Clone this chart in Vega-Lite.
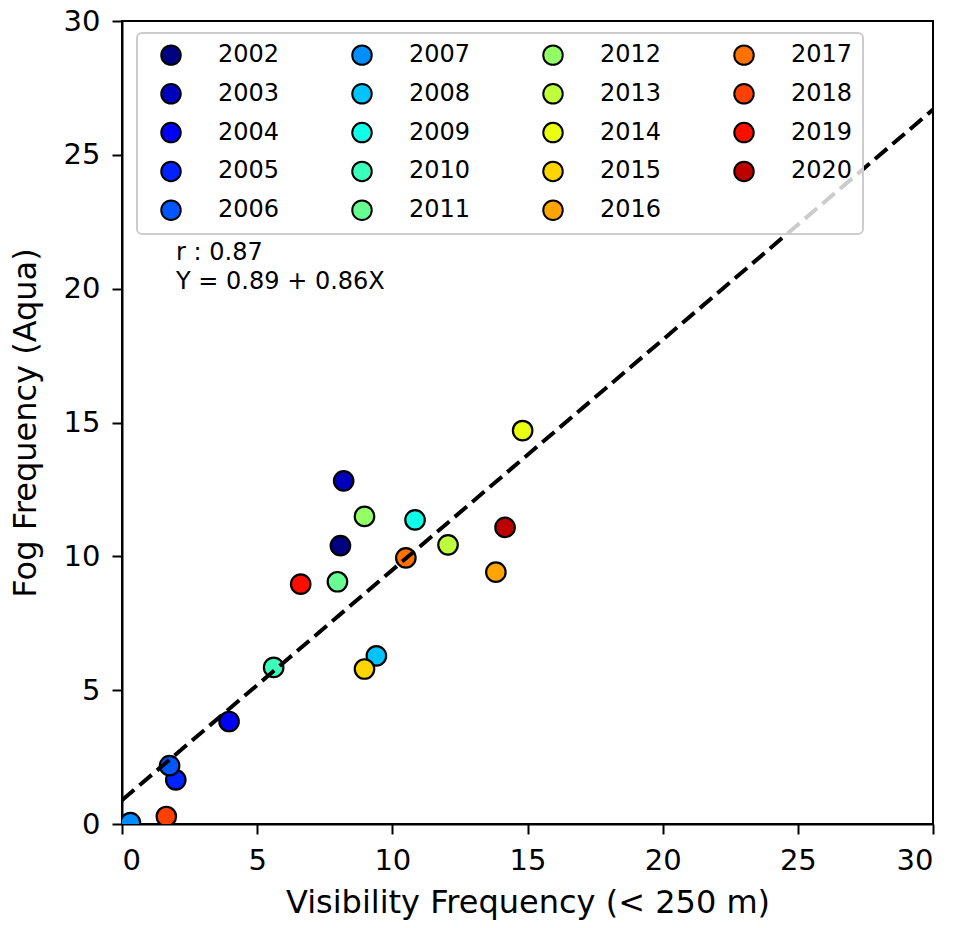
{
  "$schema": "https://vega.github.io/schema/vega-lite/v6.json",
  "width": 811,
  "height": 803,
  "autosize": {"type": "none"},
  "padding": {"left": 122, "top": 21, "right": 22, "bottom": 104},
  "background": "white",
  "config": {
    "font": "DejaVu Sans",
    "view": {"stroke": "black", "strokeWidth": 2},
    "axis": {
      "grid": false,
      "domainColor": "black",
      "domainWidth": 2,
      "tickColor": "black",
      "tickWidth": 2,
      "tickSize": 10,
      "labelColor": "black",
      "labelFont": "DejaVu Sans",
      "labelFontSize": 29,
      "labelPadding": 12,
      "titleColor": "black",
      "titleFont": "DejaVu Sans",
      "titleFontSize": 32,
      "titleFontWeight": "normal"
    }
  },
  "datasets": {
    "pts": [
      {"year": "2002", "vis": 8.08, "fog": 10.40},
      {"year": "2003", "vis": 8.20, "fog": 12.82},
      {"year": "2004", "vis": 3.96, "fog": 3.83},
      {"year": "2005", "vis": 1.99, "fog": 1.65},
      {"year": "2006", "vis": 1.76, "fog": 2.18},
      {"year": "2007", "vis": 0.31, "fog": 0.05},
      {"year": "2008", "vis": 9.41, "fog": 6.28},
      {"year": "2009", "vis": 10.84, "fog": 11.36},
      {"year": "2010", "vis": 5.61, "fog": 5.85},
      {"year": "2011", "vis": 7.97, "fog": 9.05},
      {"year": "2012", "vis": 8.97, "fog": 11.49},
      {"year": "2013", "vis": 12.06, "fog": 10.43},
      {"year": "2014", "vis": 14.82, "fog": 14.70},
      {"year": "2015", "vis": 8.97, "fog": 5.79},
      {"year": "2016", "vis": 13.83, "fog": 9.41},
      {"year": "2017", "vis": 10.50, "fog": 9.94},
      {"year": "2018", "vis": 1.64, "fog": 0.28},
      {"year": "2019", "vis": 6.61, "fog": 8.96},
      {"year": "2020", "vis": 14.17, "fog": 11.08}
    ],
    "fit": [
      {"vis": 0, "fog": 0.89},
      {"vis": 30, "fog": 26.69}
    ],
    "note": [
      {"label": "r : 0.87"}
    ]
  },
  "layer": [
    {
      "data": {"name": "pts"},
      "mark": {"type": "point", "filled": true, "shape": "circle", "size": 380, "stroke": "black", "strokeWidth": 2.2, "opacity": 1, "clip": true},
      "encoding": {
        "x": {"field": "vis", "type": "quantitative", "scale": {"domain": [0, 30], "nice": false, "zero": false}, "axis": {"values": [0, 5, 10, 15, 20, 25, 30], "title": "Visibility Frequency (< 250 m)", "titlePadding": 12}},
        "y": {"field": "fog", "type": "quantitative", "scale": {"domain": [0, 30], "nice": false, "zero": false}, "axis": {"values": [0, 5, 10, 15, 20, 25, 30], "title": "Fog Frequency (Aqua)", "titlePadding": 21}},
        "fill": {
          "field": "year",
          "type": "nominal",
          "scale": {
            "domain": ["2002","2003","2004","2005","2006","2007","2008","2009","2010","2011","2012","2013","2014","2015","2016","2017","2018","2019","2020"],
            "range": ["#000080","#0000BC","#0000F6","#0022FF","#0057FF","#008DFF","#00C3FF","#0FFFE8","#3BFFBC","#67FF91","#92FF66","#BCFF3A","#E8FF0F","#FFD500","#FFA400","#FF7200","#FF4000","#FA0E00","#BC0000"]
          },
          "legend": {
            "title": null,
            "orient": "none",
            "legendX": 15,
            "legendY": 12,
            "columns": 4,
            "gridAlign": "all",
            "labelFont": "DejaVu Sans",
            "labelFontSize": 24,
            "labelColor": "black",
            "labelLimit": 0,
            "labelOffset": 35,
            "symbolType": "circle",
            "symbolSize": 380,
            "symbolStrokeColor": "black",
            "symbolStrokeWidth": 2,
            "symbolOpacity": 1,
            "symbolOffset": 12,
            "columnPadding": 58,
            "rowPadding": 10.8,
            "padding": 10,
            "fillColor": "rgba(255,255,255,0.8)",
            "strokeColor": "#cccccc",
            "cornerRadius": 5,
            "zindex": 1,
            "encode": {"legend": {"update": {"strokeWidth": {"value": 2}}}}
          }
        }
      }
    },
    {
      "data": {"name": "fit"},
      "mark": {"type": "line", "color": "black", "strokeWidth": 4, "strokeDash": [16, 7], "clip": true},
      "encoding": {
        "x": {"field": "vis", "type": "quantitative"},
        "y": {"field": "fog", "type": "quantitative"}
      }
    },
    {
      "data": {"name": "note"},
      "mark": {"type": "text", "text": ["r : 0.87", "Y = 0.89 + 0.86X"], "align": "left", "baseline": "alphabetic", "fontSize": 24, "lineHeight": 29, "font": "DejaVu Sans", "color": "black"},
      "encoding": {
        "x": {"datum": 2},
        "y": {"datum": 21.07}
      }
    }
  ]
}
